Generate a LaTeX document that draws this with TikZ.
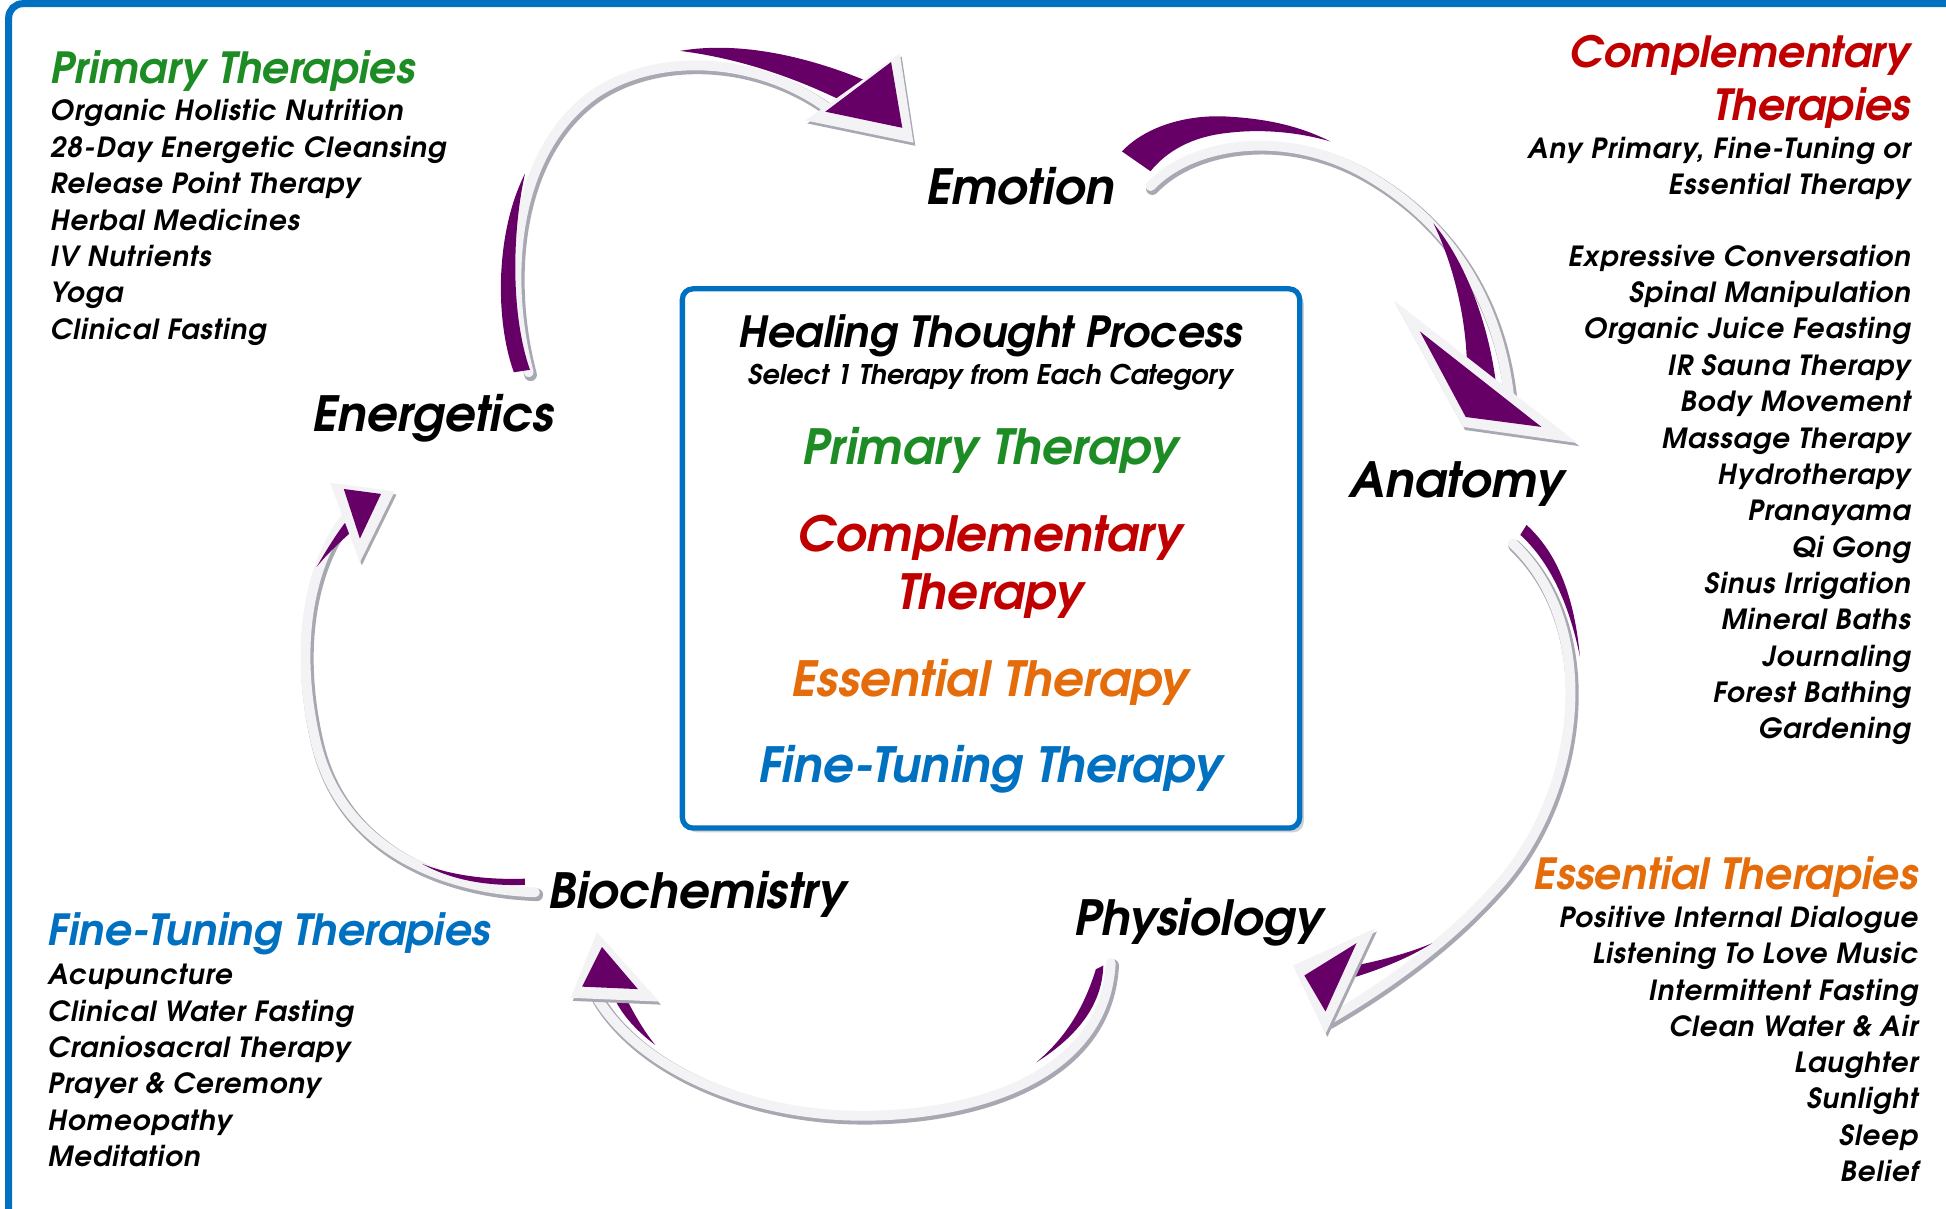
\documentclass[tikz,border=0pt]{standalone}
\usepackage{fontspec}
\setmainfont{texgyreadventor}[Extension=.otf, UprightFont=*-regular, BoldFont=*-bold, ItalicFont=*-italic, BoldItalicFont=*-bolditalic]
\usepackage{tikz}
\usetikzlibrary{positioning,shadows}

\definecolor{frameblue}{RGB}{0,112,192}
\definecolor{primgreen}{RGB}{30,140,36}
\definecolor{compred}{RGB}{192,0,0}
\definecolor{essorange}{RGB}{228,108,10}
\definecolor{fineblue}{RGB}{0,112,192}
\definecolor{swoosh}{RGB}{102,0,102}
\definecolor{bandface}{RGB}{243,243,246}
\definecolor{bandedge}{RGB}{168,168,178}

% pale ribbon under each swoosh
\newcommand{\swooshband}[1]{%
  \draw[bandedge, line width=3.6pt, line cap=round, shift={(1.5,2)}] #1;
  \draw[bandface, line width=2.8pt, line cap=round] #1;}
% arrow tip: pale outline, then the purple triangle
\newcommand{\swooshhead}[2]{%
  \fill[bandedge, shift={(1.5,2.5)}] #1 -- cycle;
  \fill[bandface] #1 -- cycle;
  \fill[swoosh] #2 -- cycle;}

\begin{document}
\begin{tikzpicture}[
        x=0.01241cm, y=-0.01241cm,
        stage/.style={font=\fontsize{13.8}{16}\selectfont\bfseries\itshape, inner sep=0pt, anchor=base},
        heading/.style={font=\fontsize{12.2}{14}\selectfont\bfseries\itshape, inner sep=0pt},
        item/.style={font=\fontsize{7.9}{9}\selectfont\bfseries\itshape\addfontfeature{LetterSpace=3.5}, inner sep=0pt},
        hubline/.style={font=\fontsize{13.8}{16}\selectfont\bfseries\itshape, inner sep=0pt, anchor=base},
        hubbox/.style={draw=frameblue, line width=1.5pt, rounded corners=3pt, fill=white,
            minimum width=6.17cm, minimum height=5.39cm,
            drop shadow={shadow xshift=1.2pt, shadow yshift=-1.2pt, opacity=.35}}
    ]

    \useasboundingbox (0,0) rectangle (1568,974);
    \fill[white] (0,0) rectangle (1568,974);
    \draw[frameblue, line width=2pt, rounded corners=4pt] (7,990) -- (7,3) -- (1580,3);

    % Swoosh: Energetics -> Emotion
    \swooshband{(426,300) .. controls (405,220) and (415,120) .. (480,75) .. controls (530,42) and (610,45) .. (668,88)}
    \fill[swoosh] (423,140) .. controls (400,185) and (398,255) .. (414,300) -- (427,298) .. controls (412,255) and (412,190) .. (423,140) -- cycle;
    \fill[swoosh] (548,41) .. controls (595,33) and (650,45) .. (700,66) -- (684,84) .. controls (640,62) and (595,47) .. (548,41) -- cycle;
    \swooshhead{(649,97) -- (725,43) -- (736,115)}{(665,90) -- (718,50) -- (727,103)}

    % Swoosh: Emotion -> Anatomy
    \swooshband{(927,150) .. controls (960,115) and (1035,103) .. (1100,140) .. controls (1170,180) and (1208,245) .. (1216,320)}
    \fill[swoosh] (904,122) .. controls (925,100) and (960,92) .. (990,94) .. controls (1025,96) and (1050,103) .. (1072,114)
        .. controls (1045,106) and (1015,104) .. (990,107) .. controls (960,110) and (940,122) .. (927,138) -- cycle;
    \fill[swoosh] (1155,180) .. controls (1180,210) and (1200,260) .. (1206,314) -- (1182,298) .. controls (1182,260) and (1172,215) .. (1155,180) -- cycle;
    \swooshhead{(1123,242) -- (1271,357) -- (1179,344)}{(1144,267) -- (1242,344) -- (1181,336)}

    % Swoosh: Anatomy -> Physiology
    \swooshband{(1219,438) .. controls (1290,505) and (1275,640) .. (1205,716) .. controls (1170,755) and (1125,790) .. (1070,822)}
    \fill[swoosh] (1230,423) .. controls (1252,443) and (1268,475) .. (1273,529) .. controls (1264,485) and (1248,452) .. (1225,431) -- cycle;
    \fill[swoosh] (1154,760) .. controls (1135,772) and (1110,782) .. (1086,789) -- (1092,778) .. controls (1112,774) and (1135,768) .. (1154,760) -- cycle;
    \swooshhead{(1108,748) -- (1042,778) -- (1068,833)}{(1093,760) -- (1051,786) -- (1068,815)}

    % Swoosh: Physiology -> Biochemistry
    \swooshband{(895,776) .. controls (890,870) and (780,900) .. (691,899) .. controls (600,898) and (515,860) .. (481,804)}
    \fill[swoosh] (889,778) .. controls (888,810) and (868,835) .. (835,856) .. controls (860,835) and (874,810) .. (883,781) -- cycle;
    \fill[swoosh] (528,842) .. controls (512,830) and (498,815) .. (492,797) -- (501,797) .. controls (508,812) and (518,830) .. (528,842) -- cycle;
    \swooshhead{(481,751) -- (460,804) -- (531,807)}{(485,763) -- (469,795) -- (514,797)}

    % Swoosh: Biochemistry -> Energetics
    \swooshband{(431,719) .. controls (350,716) and (275,680) .. (255,600) .. controls (238,530) and (245,460) .. (280,415)}
    \fill[swoosh] (340,696) .. controls (365,706) and (395,709) .. (423,708) -- (423,713) .. controls (395,714) and (365,710) .. (340,696) -- cycle;
    \fill[swoosh] (255,457) .. controls (262,445) and (272,428) .. (283,415) -- (292,420) .. controls (282,430) and (266,443) .. (255,457) -- cycle;
    \swooshhead{(266,389) -- (318,396) -- (290,453)}{(277,394) -- (307,398) -- (290,434)}

    % Stages of the cycle
    \node[stage] (emotion) at (822,165) {Emotion};
    \node[stage] (anatomy) at (1174,401) {Anatomy};
    \node[stage] (physiology) at (966,754) {Physiology};
    \node[stage] (biochem) at (562,732) {Biochemistry};
    \node[stage] (energetics) at (349,348) {Energetics};

    % Centre box
    \node[hubbox] (hub) at (798.5,450) {};
    \node[hubline, font=\fontsize{12.2}{14}\selectfont\bfseries\itshape] (hubtitle) at (798,280) {Healing Thought Process};
    \node[hubline, font=\fontsize{7.7}{9}\selectfont\bfseries\itshape] (hubsub) at (798,309.5) {Select 1 Therapy from Each Category};
    \node[hubline, text=primgreen] (hubprim) at (798,374.5) {Primary Therapy};
    \node[hubline, text=compred] (hubcomp) at (798,444.5) {Complementary};
    \node[hubline, text=compred] (hubcomp2) at (798,491.5) {Therapy};
    \node[hubline, text=essorange] (hubess) at (798,561.5) {Essential Therapy};
    \node[hubline, text=fineblue] (hubfine) at (798,630.5) {Fine-Tuning Therapy};

    % Top left: primary therapies
    \node[heading, text=primgreen, anchor=base west] (primhead) at (40,67) {Primary Therapies};
    \foreach \t [count=\i from 0] in {Organic Holistic Nutrition, 28-Day Energetic Cleansing, Release Point Therapy,
        Herbal Medicines, IV Nutrients, Yoga, Clinical Fasting}
        \node[item, anchor=base west] (prim\i) at (40,{97.5+29.3*\i}) {\t};

    % Top right: complementary therapies
    \node[heading, text=compred, anchor=base east] (comphead) at (1540,54) {Complementary};
    \node[heading, text=compred, anchor=base east] (comphead2) at (1540,97) {Therapies};
    \foreach \t [count=\i from 0] in {{Any Primary, Fine-Tuning or}, Essential Therapy}
        \node[item, anchor=base east] (compnote\i) at (1540,{127.5+29.3*\i}) {\t};
    \foreach \t [count=\i from 0] in {Expressive Conversation, Spinal Manipulation, Organic Juice Feasting,
        IR Sauna Therapy, Body Movement, Massage Therapy, Hydrotherapy, Pranayama, Qi Gong,
        Sinus Irrigation, Mineral Baths, Journaling, Forest Bathing, Gardening}
        \node[item, anchor=base east] (comp\i) at (1540,{214.5+29.3*\i}) {\t};

    % Bottom left: fine-tuning therapies
    \node[heading, text=fineblue, anchor=base west] (finehead) at (38,762) {Fine-Tuning Therapies};
    \foreach \t [count=\i from 0] in {Acupuncture, Clinical Water Fasting, Craniosacral Therapy,
        Prayer \& Ceremony, Homeopathy, Meditation}
        \node[item, anchor=base west] (fine\i) at (38,{793.5+29.3*\i}) {\t};

    % Bottom right: essential therapies
    \node[heading, text=essorange, anchor=base east] (esshead) at (1546,717) {Essential Therapies};
    \foreach \t [count=\i from 0] in {Positive Internal Dialogue, Listening To Love Music, Intermittent Fasting,
        Clean Water \& Air, Laughter, Sunlight, Sleep, Belief}
        \node[item, anchor=base east] (ess\i) at (1546,{747.5+29.2*\i}) {\t};

\end{tikzpicture}
\end{document}
